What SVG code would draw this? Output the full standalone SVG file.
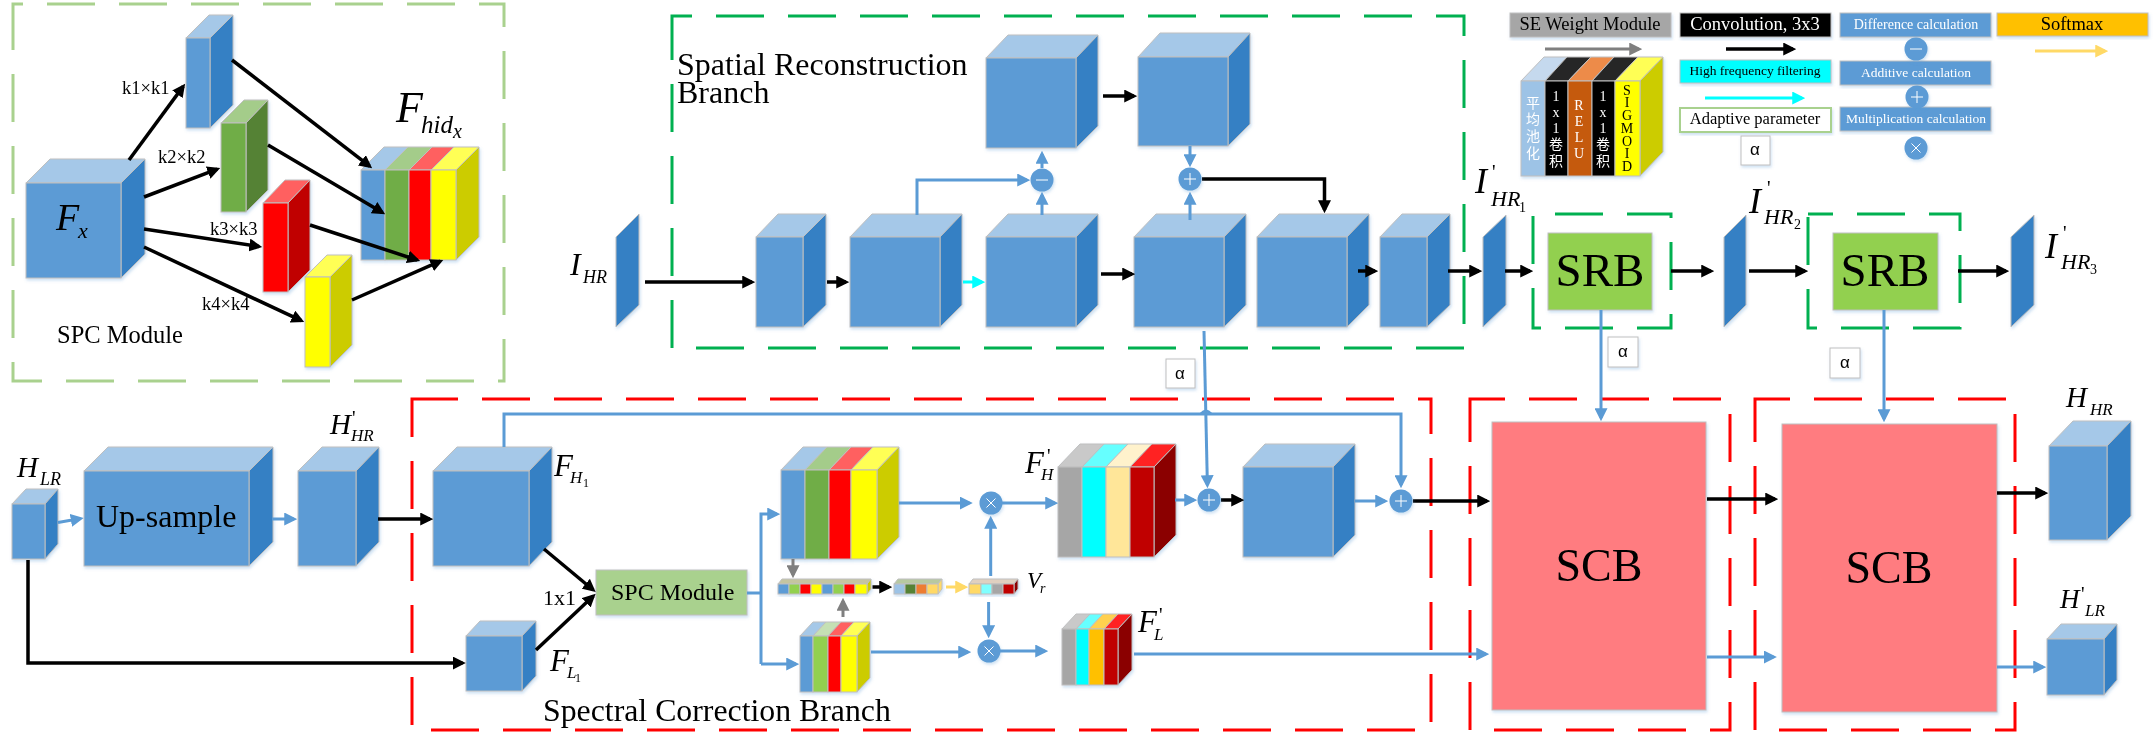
<svg xmlns="http://www.w3.org/2000/svg" width="2155" height="746" viewBox="0 0 2155 746">
<style>
text{font-family:"Liberation Serif","Noto Sans CJK SC",serif;fill:#000}
.i{font-style:italic}
.w{fill:#fff}
.m{text-anchor:middle}
.box{fill:none;stroke-width:3;stroke-dasharray:48 24}
.g1{stroke:#A9D18E}.g2{stroke:#00B050}.r{stroke:#F00}
.nodes rect,.nodes polygon{stroke:#BFBFBF;stroke-width:1}
.nf{filter:url(#sh)}
.f{fill:#5B9BD5}.t{fill:#A5C8E8}.s{fill:#3580C4}
.pl{fill:#3580C4}
.ln{fill:none;stroke-width:3}
.k{stroke:#000;stroke-width:3.5}.b{stroke:#5B9BD5}.c{stroke:#0FF}.y{stroke:#FFD966}.h{stroke:#7F7F7F}
.op circle{fill:#5B9BD5}
.op line{stroke:#fff;stroke-width:1}
.al{fill:#fff;stroke:#A9D18E;stroke-width:2}
</style>
<defs>
<filter id="sh" x="-10%" y="-10%" width="125%" height="125%"><feDropShadow dx="1" dy="2" stdDeviation="1.5" flood-color="#5B9BD5" flood-opacity=".3"/></filter>
<marker id="ak" markerUnits="userSpaceOnUse" markerWidth="13" markerHeight="13" viewBox="0 0 12 12" refX="9" refY="6" orient="auto"><path d="M0 0L12 6L0 12z" fill="#000"/></marker>
<marker id="ab" markerUnits="userSpaceOnUse" markerWidth="13" markerHeight="13" viewBox="0 0 12 12" refX="9" refY="6" orient="auto"><path d="M0 0L12 6L0 12z" fill="#5B9BD5"/></marker>
<marker id="ac" markerUnits="userSpaceOnUse" markerWidth="13" markerHeight="13" viewBox="0 0 12 12" refX="9" refY="6" orient="auto"><path d="M0 0L12 6L0 12z" fill="#0FF"/></marker>
<marker id="ay" markerUnits="userSpaceOnUse" markerWidth="13" markerHeight="13" viewBox="0 0 12 12" refX="9" refY="6" orient="auto"><path d="M0 0L12 6L0 12z" fill="#FFD966"/></marker>
<marker id="ah" markerUnits="userSpaceOnUse" markerWidth="13" markerHeight="13" viewBox="0 0 12 12" refX="9" refY="6" orient="auto"><path d="M0 0L12 6L0 12z" fill="#7F7F7F"/></marker>
<g id="minus" class="op"><circle r="11.5"/><line x1="-6" x2="6" y1="0" y2="0"/></g>
<g id="plus" class="op"><circle r="11.5"/><line x1="-6" x2="6" y1="0" y2="0"/><line x1="0" x2="0" y1="-6" y2="6"/></g>
<g id="times" class="op"><circle r="11.5"/><line x1="-4.5" x2="4.5" y1="-4.5" y2="4.5"/><line x1="-4.5" x2="4.5" y1="4.5" y2="-4.5"/></g>
</defs>
<rect width="2155" height="746" fill="#fff"/>

<g id="containers">
<rect class="box g1" x="13" y="4" width="491" height="377" stroke-dashoffset="38"/>
<rect class="box g2" x="672" y="16" width="792" height="332" stroke-dashoffset="28"/>
<rect class="box g2" x="1533" y="214" width="138" height="114" stroke-dashoffset="50"/>
<rect class="box g2" x="1808" y="214" width="152" height="114" stroke-dashoffset="23"/>
<rect class="box r" x="412" y="399" width="1019" height="331" stroke-dashoffset="2"/>
<rect class="box r" x="1470" y="399" width="260" height="331" stroke-dashoffset="13"/>
<rect class="box r" x="1755" y="399" width="260" height="331" stroke-dashoffset="13"/>
</g>

<g class="nodes">
<g id="Fx" class="nf"><polygon class="t" points="26,183 50,159 145,159 121,183"/><polygon class="s" points="121,183 145,159 145,254 121,278"/><rect class="f" x="26" y="183" width="95" height="95"/></g>
<g id="k1" class="nf"><polygon class="t" points="186,38 209,15 233,15 210,38"/><polygon class="s" points="210,38 233,15 233,105 210,128"/><rect class="f" x="186" y="38" width="24" height="90"/></g>
<g id="k2" class="nf"><polygon points="221,123 244,100 268,100 246,123" fill="#A4CC8A"/><polygon points="246,123 268,100 268,190 246,212" fill="#548235"/><rect x="221" y="123" width="25" height="89" fill="#70AD47"/></g>
<g id="k3" class="nf"><polygon points="263,203 285,180 310,180 288,203" fill="#FF6060"/><polygon points="288,203 310,180 310,270 288,292" fill="#C00000"/><rect x="263" y="203" width="25" height="89" fill="#F00"/></g>
<g id="k4" class="nf"><polygon points="305,277 327,255 352,255 330,277" fill="#FFFF55"/><polygon points="330,277 352,255 352,345 330,367" fill="#CC0"/><rect x="305" y="277" width="25" height="90" fill="#FF0"/></g>
<g id="Fhid" class="nf">
<polygon points="361,170 384,147 408,147 385,170" fill="#A5C8E8"/><polygon points="385,170 408,147 432,147 409,170" fill="#A4CC8A"/><polygon points="409,170 432,147 454,147 431,170" fill="#FF6060"/><polygon points="431,170 454,147 479,147 456,170" fill="#FFFF55"/>
<polygon points="456,170 479,147 479,237 456,260" fill="#CC0"/>
<rect x="361" y="170" width="24" height="90" fill="#5B9BD5"/><rect x="385" y="170" width="24" height="90" fill="#70AD47"/><rect x="409" y="170" width="22" height="90" fill="#F00"/><rect x="431" y="170" width="25" height="90" fill="#FF0"/></g>

<g id="IHR" class="nf"><polygon class="pl" points="616,237 639,214 639,305 616,327"/></g>
<g id="sr1" class="nf"><polygon class="t" points="756,237 778,214 826,214 803,237"/><polygon class="s" points="803,237 826,214 826,305 803,327"/><rect class="f" x="756" y="237" width="47" height="90"/></g>
<g id="sr2" class="nf"><polygon class="t" points="850,237 872,214 962,214 940,237"/><polygon class="s" points="940,237 962,214 962,305 940,327"/><rect class="f" x="850" y="237" width="90" height="90"/></g>
<g id="sr3" class="nf"><polygon class="t" points="986,237 1008,214 1098,214 1076,237"/><polygon class="s" points="1076,237 1098,214 1098,305 1076,327"/><rect class="f" x="986" y="237" width="90" height="90"/></g>
<g id="sr4" class="nf"><polygon class="t" points="1134,237 1156,214 1246,214 1224,237"/><polygon class="s" points="1224,237 1246,214 1246,305 1224,327"/><rect class="f" x="1134" y="237" width="90" height="90"/></g>
<g id="sr5" class="nf"><polygon class="t" points="1257,237 1279,214 1369,214 1347,237"/><polygon class="s" points="1347,237 1369,214 1369,305 1347,327"/><rect class="f" x="1257" y="237" width="90" height="90"/></g>
<g id="sr6" class="nf"><polygon class="t" points="1380,237 1402,214 1450,214 1427,237"/><polygon class="s" points="1427,237 1450,214 1450,305 1427,327"/><rect class="f" x="1380" y="237" width="47" height="90"/></g>
<g id="srt1" class="nf"><polygon class="t" points="986,58 1008,35 1098,35 1076,58"/><polygon class="s" points="1076,58 1098,35 1098,126 1076,148"/><rect class="f" x="986" y="58" width="90" height="90"/></g>
<g id="srt2" class="nf"><polygon class="t" points="1138,57 1160,33 1250,33 1228,57"/><polygon class="s" points="1228,57 1250,33 1250,124 1228,146"/><rect class="f" x="1138" y="57" width="90" height="89"/></g>
<g id="IHR1" class="nf"><polygon class="pl" points="1483,237 1506,215 1506,305 1483,327"/></g>
<g id="SRB1" class="nf"><rect x="1548" y="233" width="104" height="77" fill="#92D050"/><text class="m" x="1600" y="286" font-size="47">SRB</text></g>
<g id="IHR2" class="nf"><polygon class="pl" points="1724,237 1746,215 1746,305 1724,327"/></g>
<g id="SRB2" class="nf"><rect x="1833" y="233" width="105" height="77" fill="#92D050"/><text class="m" x="1885" y="286" font-size="47">SRB</text></g>
<g id="IHR3" class="nf"><polygon class="pl" points="2011,237 2034,215 2034,305 2011,327"/></g>

<g id="HLR" class="nf"><polygon class="t" points="12,504 26,489 58,489 45,504"/><polygon class="s" points="45,504 58,489 58,544 45,559"/><rect class="f" x="12" y="504" width="33" height="55"/></g>
<g id="Upsample" class="nf"><polygon class="t" points="84,471 108,447 273,447 249,471"/><polygon class="s" points="249,471 273,447 273,542 249,566"/><rect class="f" x="84" y="471" width="165" height="95"/><text x="96" y="527" font-size="32">Up-sample</text></g>
<g id="HHRp" class="nf"><polygon class="t" points="298,471 322,447 379,447 356,471"/><polygon class="s" points="356,471 379,447 379,542 356,566"/><rect class="f" x="298" y="471" width="58" height="95"/></g>
<g id="FH1" class="nf"><polygon class="t" points="433,471 457,447 552,447 529,471"/><polygon class="s" points="529,471 552,447 552,542 529,566"/><rect class="f" x="433" y="471" width="96" height="95"/></g>
<g id="FL1" class="nf"><polygon class="t" points="466,636 480,621 536,621 522,636"/><polygon class="s" points="522,636 536,621 536,676 522,691"/><rect class="f" x="466" y="636" width="56" height="55"/></g>
<g id="SPC" class="nf"><rect x="596" y="570" width="151" height="45" fill="#A9D18E" stroke="none"/><text x="611" y="600" font-size="24">SPC Module</text></g>

<g id="stackA" class="nf">
<polygon points="781,470 803,447 827,447 805,470" fill="#A5C8E8"/><polygon points="805,470 827,447 851,447 829,470" fill="#A4CC8A"/><polygon points="829,470 851,447 873,447 851,470" fill="#FF6060"/><polygon points="851,470 873,447 899,447 877,470" fill="#FFFF55"/>
<polygon points="877,470 899,447 899,537 877,559" fill="#CC0"/>
<rect x="781" y="470" width="24" height="89" fill="#5B9BD5"/><rect x="805" y="470" width="24" height="89" fill="#70AD47"/><rect x="829" y="470" width="22" height="89" fill="#F00"/><rect x="851" y="470" width="26" height="89" fill="#FF0"/></g>
<g id="stackB" class="nf">
<polygon points="800,636 813,622 826,622 813,636" fill="#A5C8E8"/><polygon points="813,636 826,622 841,622 828,636" fill="#C5E0B4"/><polygon points="828,636 841,622 854,622 841,636" fill="#FF6060"/><polygon points="841,636 854,622 870,622 857,636" fill="#FFFF55"/>
<polygon points="857,636 870,622 870,678 857,692" fill="#CC0"/>
<rect x="800" y="636" width="13" height="56" fill="#5B9BD5"/><rect x="813" y="636" width="15" height="56" fill="#92D050"/><rect x="828" y="636" width="13" height="56" fill="#F00"/><rect x="841" y="636" width="16" height="56" fill="#FF0"/></g>
<g id="strip1" class="nf">
<polygon points="778,584 782,579 871,579 867,584" fill="#C5C5A0"/>
<polygon points="867,584 871,579 871,589 867,594" fill="#CC0"/>
<rect x="778" y="584" width="11" height="10" fill="#5B9BD5"/><rect x="789" y="584" width="11" height="10" fill="#92D050"/><rect x="800" y="584" width="11" height="10" fill="#F00"/><rect x="811" y="584" width="11" height="10" fill="#FF0"/><rect x="822" y="584" width="11" height="10" fill="#5B9BD5"/><rect x="833" y="584" width="11" height="10" fill="#92D050"/><rect x="844" y="584" width="11" height="10" fill="#F00"/><rect x="855" y="584" width="12" height="10" fill="#FF0"/></g>
<g id="strip2" class="nf">
<polygon points="894,584 898,579 942,579 938,584" fill="#B7C9A0"/>
<polygon points="938,584 942,579 942,589 938,594" fill="#FFD966"/>
<rect x="894" y="584" width="11" height="10" fill="#9DC3E6"/><rect x="905" y="584" width="11" height="10" fill="#548235"/><rect x="916" y="584" width="11" height="10" fill="#ED7D31"/><rect x="927" y="584" width="11" height="10" fill="#FFD966"/></g>
<g id="strip3" class="nf">
<polygon points="969,584 973,579 1018,579 1014,584" fill="#E0D0C0"/>
<polygon points="1014,584 1018,579 1018,589 1014,594" fill="#8B0000"/>
<rect x="969" y="584" width="12" height="10" fill="#FFD966"/><rect x="981" y="584" width="11" height="10" fill="#7FFFFF"/><rect x="992" y="584" width="11" height="10" fill="#A6A6A6"/><rect x="1003" y="584" width="11" height="10" fill="#C00000"/></g>
<g id="FHp" class="nf">
<polygon points="1058,467 1080,444 1104,444 1082,467" fill="#C9C9C9"/><polygon points="1082,467 1104,444 1128,444 1106,467" fill="#6FF"/><polygon points="1106,467 1128,444 1152,444 1130,467" fill="#FFF2CC"/><polygon points="1130,467 1152,444 1176,444 1154,467" fill="#FF2020"/>
<polygon points="1154,467 1176,444 1176,535 1154,557" fill="#8B0000"/>
<rect x="1058" y="467" width="24" height="90" fill="#A6A6A6"/><rect x="1082" y="467" width="24" height="90" fill="#0FF"/><rect x="1106" y="467" width="24" height="90" fill="#FFE699"/><rect x="1130" y="467" width="24" height="90" fill="#C00000"/></g>
<g id="FLp" class="nf">
<polygon points="1062,629 1076,614 1090,614 1076,629" fill="#C9C9C9"/><polygon points="1076,629 1090,614 1103,614 1089,629" fill="#6FF"/><polygon points="1089,629 1103,614 1118,614 1104,629" fill="#FFD050"/><polygon points="1104,629 1118,614 1132,614 1118,629" fill="#FF2020"/>
<polygon points="1118,629 1132,614 1132,670 1118,685" fill="#8B0000"/>
<rect x="1062" y="629" width="14" height="56" fill="#A6A6A6"/><rect x="1076" y="629" width="13" height="56" fill="#0FF"/><rect x="1089" y="629" width="15" height="56" fill="#FFC000"/><rect x="1104" y="629" width="14" height="56" fill="#C00000"/></g>
<g id="scfinal" class="nf"><polygon class="t" points="1243,467 1265,444 1355,444 1333,467"/><polygon class="s" points="1333,467 1355,444 1355,535 1333,557"/><rect class="f" x="1243" y="467" width="90" height="90"/></g>
<g id="SCB1" class="nf"><rect x="1492" y="422" width="214" height="288" fill="#FF7C80"/><text class="m" x="1599" y="581" font-size="46">SCB</text></g>
<g id="SCB2" class="nf"><rect x="1782" y="424" width="215" height="288" fill="#FF7C80"/><text class="m" x="1889" y="583" font-size="46">SCB</text></g>
<g id="HHR" class="nf"><polygon class="t" points="2049,446 2073,421 2131,421 2107,446"/><polygon class="s" points="2107,446 2131,421 2131,516 2107,540"/><rect class="f" x="2049" y="446" width="58" height="94"/></g>
<g id="HLRp" class="nf"><polygon class="t" points="2047,639 2061,624 2117,624 2104,639"/><polygon class="s" points="2104,639 2117,624 2117,680 2104,695"/><rect class="f" x="2047" y="639" width="57" height="56"/></g>

<g id="legendSE" class="nf"><rect x="1510" y="13" width="161" height="24" fill="#A6A6A6"/><text class="m" x="1590" y="30" font-size="18.500">SE Weight Module</text></g>
<g id="legendConv" class="nf"><rect x="1680" y="13" width="151" height="24" fill="#000"/><text class="m w" x="1755" y="30" font-size="18.500">Convolution, 3x3</text></g>
<g id="legendDiff" class="nf"><rect x="1840" y="13" width="151" height="24" fill="#5B9BD5"/><text class="m w" x="1916" y="29" font-size="14">Difference calculation</text></g>
<g id="legendSoft" class="nf"><rect x="1997" y="13" width="151" height="23" fill="#FFC000"/><text class="m" x="2072" y="30" font-size="18.500">Softmax</text></g>
<g id="legendHF" class="nf"><rect x="1680" y="60" width="151" height="23" fill="#0FF"/><text class="m" x="1755" y="75" font-size="13.500">High frequency filtering</text></g>
<g id="legendAdd" class="nf"><rect x="1840" y="61" width="151" height="24" fill="#5B9BD5"/><text class="m w" x="1916" y="77" font-size="13.500">Additive calculation</text></g>
<g id="legendAda" class="nf"><rect x="1680" y="108" width="151" height="24" fill="#fff" style="stroke:#A9D18E;stroke-width:2"/><text class="m" x="1755" y="124" font-size="16.500">Adaptive parameter</text></g>
<g id="legendMul" class="nf"><rect x="1840" y="107" width="151" height="24" fill="#5B9BD5"/><text class="m w" x="1916" y="123" font-size="13.500">Multiplication calculation</text></g>
<g id="legendAlpha" class="nf"><rect class="al" x="1741" y="136" width="29" height="29"/><text class="m" x="1755" y="155" font-size="17" style="font-family:'Liberation Sans',sans-serif">α</text></g>
<g id="legendCube" class="nf">
<polygon points="1521,81 1544,57 1567,57 1545,81" fill="#C5D9EE"/><polygon points="1545,81 1567,57 1591,57 1568,81" fill="#262626"/><polygon points="1568,81 1591,57 1614,57 1592,81" fill="#ED8B4A"/><polygon points="1592,81 1614,57 1638,57 1615,81" fill="#262626"/><polygon points="1615,81 1638,57 1663,57 1640,81" fill="#FFFF55"/>
<polygon points="1640,81 1663,57 1663,152 1640,176" fill="#CC0"/>
<rect x="1521" y="81" width="24" height="95" fill="#9DC3E6"/><rect x="1545" y="81" width="23" height="95" fill="#000"/><rect x="1568" y="81" width="24" height="95" fill="#C55A11"/><rect x="1592" y="81" width="23" height="95" fill="#000"/><rect x="1615" y="81" width="25" height="95" fill="#FF0"/>
<g font-size="14" style="text-anchor:middle">
<text class="w" x="1533" y="108">平</text><text class="w" x="1533" y="124">均</text><text class="w" x="1533" y="141">池</text><text class="w" x="1533" y="158">化</text>
<text class="w" x="1556" y="101">1</text><text class="w" x="1556" y="117">x</text><text class="w" x="1556" y="133">1</text><text class="w" x="1556" y="149">卷</text><text class="w" x="1556" y="166">积</text>
<text class="w" x="1579" y="110">R</text><text class="w" x="1579" y="126">E</text><text class="w" x="1579" y="142">L</text><text class="w" x="1579" y="158">U</text>
<text class="w" x="1603" y="101">1</text><text class="w" x="1603" y="117">x</text><text class="w" x="1603" y="133">1</text><text class="w" x="1603" y="149">卷</text><text class="w" x="1603" y="166">积</text>
<text x="1627" y="95">S</text><text x="1627" y="107">I</text><text x="1627" y="120">G</text><text x="1627" y="133">M</text><text x="1627" y="146">O</text><text x="1627" y="158">I</text><text x="1627" y="171">D</text>
</g></g>
<g id="alpha1" class="nf"><rect class="al" x="1166" y="359" width="29" height="29"/><text class="m" x="1180" y="379" font-size="17" style="font-family:'Liberation Sans',sans-serif">α</text></g>
<g id="alpha2" class="nf"><rect class="al" x="1608" y="337" width="30" height="30"/><text class="m" x="1623" y="357" font-size="17" style="font-family:'Liberation Sans',sans-serif">α</text></g>
<g id="alpha3" class="nf"><rect class="al" x="1830" y="348" width="30" height="30"/><text class="m" x="1845" y="368" font-size="17" style="font-family:'Liberation Sans',sans-serif">α</text></g>
</g>

<g id="connectors">
<g class="ln k">
<path d="M129 160L183.200 86.400" marker-end="url(#ak)"/>
<path d="M144 197L217.200 169.100" marker-end="url(#ak)"/>
<path d="M144 229L259 246.500" marker-end="url(#ak)"/>
<path d="M144 247L301.300 320.700" marker-end="url(#ak)"/>
<path d="M232 60L369.600 166.200" marker-end="url(#ak)"/>
<path d="M268 145L382.400 212.500" marker-end="url(#ak)"/>
<path d="M310 225L417.100 260" marker-end="url(#ak)"/>
<path d="M352 300L440.300 261.200" marker-end="url(#ak)"/>
<path d="M645 282H752" marker-end="url(#ak)"/>
<path d="M827 282H846" marker-end="url(#ak)"/>
<path d="M1101 274H1132" marker-end="url(#ak)"/>
<path d="M1358 271H1375" marker-end="url(#ak)"/>
<path d="M1448 271H1479" marker-end="url(#ak)"/>
<path d="M1103 96H1134" marker-end="url(#ak)"/>
<path d="M1202 179H1324.500V210" marker-end="url(#ak)"/>
<path d="M1505 271H1530" marker-end="url(#ak)"/>
<path d="M1671 271H1711" marker-end="url(#ak)"/>
<path d="M1749 271H1805" marker-end="url(#ak)"/>
<path d="M1958 271H2006" marker-end="url(#ak)"/>
<path d="M378 519H430" marker-end="url(#ak)"/>
<path d="M28 560V663H462.500" marker-end="url(#ak)"/>
<path d="M544 549L593.200 590" marker-end="url(#ak)"/>
<path d="M536 650L593.300 596" marker-end="url(#ak)"/>
<path d="M872.500 587H889" marker-end="url(#ak)"/>
<path d="M1221 500H1241" marker-end="url(#ak)"/>
<path d="M1413 501H1487" marker-end="url(#ak)"/>
<path d="M1707 499H1775" marker-end="url(#ak)"/>
<path d="M1997 493H2045" marker-end="url(#ak)"/>
<path d="M1726 49H1793" marker-end="url(#ak)"/>
</g>
<g class="ln b">
<path d="M1042 215V195" marker-end="url(#ab)"/>
<path d="M1042 168V154" marker-end="url(#ab)"/>
<path d="M917 215V180H1027" marker-end="url(#ab)"/>
<path d="M1190 146V164" marker-end="url(#ab)"/>
<path d="M1190 220V195" marker-end="url(#ab)"/>
<path d="M1204 331L1207.400 485" marker-end="url(#ab)"/>
<path d="M1201 414Q1206 408 1211 414"/>
<path d="M58 522.600L80.500 518.500" marker-end="url(#ab)"/>
<path d="M272 519H294" marker-end="url(#ab)"/>
<path d="M504 447V414H1401V485" marker-end="url(#ab)"/>
<path d="M747 593H761"/>
<path d="M761 664V514H777" marker-end="url(#ab)"/>
<path d="M761 664H796" marker-end="url(#ab)"/>
<path d="M990.700 576V519" marker-end="url(#ab)"/>
<path d="M988.600 602V635" marker-end="url(#ab)"/>
<path d="M899 503H969.500" marker-end="url(#ab)"/>
<path d="M1002 503H1055" marker-end="url(#ab)"/>
<path d="M871 652H968" marker-end="url(#ab)"/>
<path d="M1000 651H1045" marker-end="url(#ab)"/>
<path d="M1175 500H1194" marker-end="url(#ab)"/>
<path d="M1355 501H1385" marker-end="url(#ab)"/>
<path d="M1134 654H1486" marker-end="url(#ab)"/>
<path d="M1601 310V418" marker-end="url(#ab)"/>
<path d="M1884 310V419" marker-end="url(#ab)"/>
<path d="M1707 657H1773.600" marker-end="url(#ab)"/>
<path d="M1997 667H2043" marker-end="url(#ab)"/>
</g>
<g class="ln c">
<path d="M963 282H982" marker-end="url(#ac)"/>
<path d="M1705 98H1802" marker-end="url(#ac)"/>
</g>
<g class="ln y">
<path d="M946 587H965" marker-end="url(#ay)"/>
<path d="M2035 51H2105" marker-end="url(#ay)"/>
</g>
<g class="ln h">
<path d="M793 559V575" marker-end="url(#ah)"/>
<path d="M843 617V601" marker-end="url(#ah)"/>
<path d="M1545 49H1639" marker-end="url(#ah)"/>
</g>
</g>

<g id="ops" class="nf">
<use href="#minus" x="1042" y="180"/>
<use href="#plus" x="1190" y="179"/>
<use href="#times" x="991" y="503"/>
<use href="#times" x="989" y="651"/>
<use href="#plus" x="1209" y="500"/>
<use href="#plus" x="1401" y="501"/>
<use href="#minus" x="1916" y="49"/>
<use href="#plus" x="1917" y="97"/>
<use href="#times" x="1916" y="148"/>
</g>

<g id="labels">
<text x="122" y="94" font-size="18.500">k1×k1</text>
<text x="158" y="163" font-size="18.500">k2×k2</text>
<text x="210" y="235" font-size="18.500">k3×k3</text>
<text x="202" y="310" font-size="18.500">k4×k4</text>
<text x="57" y="343" font-size="24.500">SPC Module</text>
<text class="i" x="56" y="230" font-size="38">F</text><text class="i" x="78" y="238" font-size="22">x</text>
<text class="i" x="396" y="122" font-size="44">F</text><text class="i" x="421" y="133" font-size="25">hid</text><text class="i" x="453" y="138" font-size="20">x</text>
<text x="677" y="75" font-size="32">Spatial Reconstruction</text><text x="677" y="103" font-size="32">Branch</text>
<text class="i" x="570" y="275" font-size="32">I</text><text class="i" x="583" y="283" font-size="18">HR</text>
<text class="i" x="1475" y="193" font-size="36">I</text><text x="1492" y="179" font-size="20">'</text><text class="i" x="1491" y="206" font-size="22">HR</text><text x="1519" y="212" font-size="14">1</text>
<text class="i" x="1749" y="213" font-size="36">I</text><text x="1767" y="195" font-size="20">'</text><text class="i" x="1764" y="224" font-size="22">HR</text><text x="1794" y="229" font-size="14">2</text>
<text class="i" x="2045" y="258" font-size="36">I</text><text x="2063" y="240" font-size="20">'</text><text class="i" x="2061" y="269" font-size="22">HR</text><text x="2090" y="274" font-size="14">3</text>
<text class="i" x="17" y="477" font-size="29">H</text><text class="i" x="40" y="485" font-size="18">LR</text>
<text class="i" x="330" y="434" font-size="29">H</text><text x="352" y="425" font-size="20">'</text><text class="i" x="351" y="441" font-size="17">HR</text>
<text class="i" x="554" y="476" font-size="31">F</text><text class="i" x="570" y="483" font-size="17">H</text><text x="583" y="487" font-size="12">1</text>
<text class="i" x="550" y="671" font-size="31">F</text><text class="i" x="567" y="678" font-size="17">L</text><text x="575" y="682" font-size="12">1</text>
<text x="543" y="605" font-size="22">1x1</text>
<text x="543" y="721" font-size="31.800">Spectral Correction Branch</text>
<text class="i" x="1025" y="473" font-size="31">F</text><text x="1047" y="463" font-size="20">'</text><text class="i" x="1041" y="480" font-size="17">H</text>
<text class="i" x="1138" y="632" font-size="31">F</text><text x="1159" y="622" font-size="20">'</text><text class="i" x="1154" y="640" font-size="17">L</text>
<text class="i" x="1027" y="588" font-size="23">V</text><text class="i" x="1040" y="593" font-size="14">r</text>
<text class="i" x="2066" y="407" font-size="29">H</text><text class="i" x="2090" y="415" font-size="17">HR</text>
<text class="i" x="2060" y="608" font-size="27">H</text><text x="2081" y="601" font-size="20">'</text><text class="i" x="2085" y="616" font-size="17">LR</text>
</g>
</svg>
